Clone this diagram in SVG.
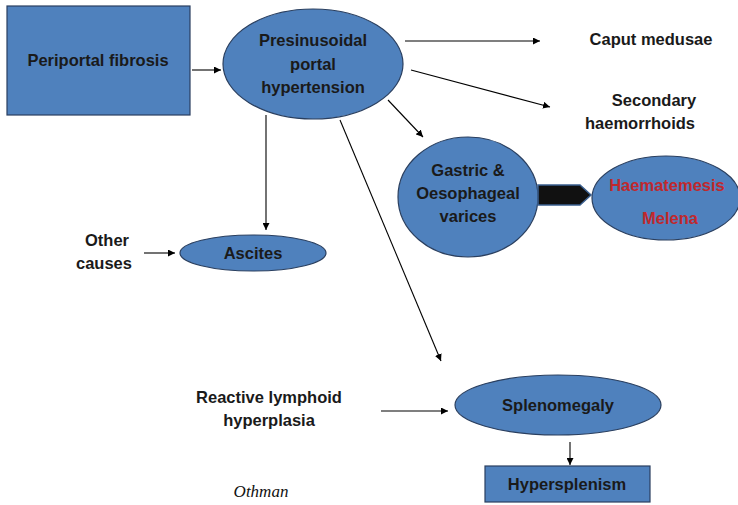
<svg xmlns="http://www.w3.org/2000/svg" width="738" height="505" viewBox="0 0 738 505">
<defs>
<marker id="ah" viewBox="0 0 10 10" refX="10" refY="5" markerWidth="7" markerHeight="7" markerUnits="userSpaceOnUse" orient="auto">
<path d="M0,0 L10,5 L0,10 z" fill="#000"/>
</marker>
<style>
.n{fill:#4F81BD;stroke:#2A3F5F;stroke-width:1.2}
.t{font-family:"Liberation Sans",Arial,sans-serif;font-weight:bold;font-size:16.5px;fill:#1a1a1a;text-anchor:middle;dominant-baseline:central}
.r{fill:#C0282D}
.c line{stroke:#000;stroke-width:1.1;marker-end:url(#ah)}
</style>
</defs>
<rect width="738" height="505" fill="#fff"/>
<g id="periportal"><rect class="n" x="7" y="6" width="183" height="109"/><text class="t" x="98" y="60">Periportal fibrosis</text></g>
<g id="presinusoidal"><ellipse class="n" cx="313" cy="64" rx="90" ry="55"/><text class="t" x="313" y="40">Presinusoidal</text><text class="t" x="313" y="64">portal</text><text class="t" x="313" y="87">hypertension</text></g>
<g id="caput"><text class="t" x="651" y="39">Caput medusae</text></g>
<g id="haemorrhoids"><text class="t" x="654" y="100">Secondary</text><text class="t" x="640" y="123">haemorrhoids</text></g>
<g id="varices"><ellipse class="n" cx="468" cy="197" rx="70" ry="60"/><text class="t" x="468" y="170">Gastric &amp;</text><text class="t" x="468" y="193">Oesophageal</text><text class="t" x="468" y="216">varices</text></g>
<g id="bleeding"><ellipse class="n" cx="666" cy="198" rx="74" ry="42"/><text class="t r" x="667" y="185">Haematemesis</text><text class="t r" x="670" y="218">Melena</text></g>
<g id="blockarrow"><path d="M538,185 L580,185 L591,195 L580,205 L538,205 z" fill="#111" stroke="#3A5F8F" stroke-width="1.5"/></g>
<g id="ascites"><ellipse class="n" cx="253" cy="253" rx="73" ry="18"/><text class="t" x="253" y="253">Ascites</text></g>
<g id="othercauses"><text class="t" x="107" y="240">Other</text><text class="t" x="104" y="263">causes</text></g>
<g id="splenomegaly"><ellipse class="n" cx="558" cy="405" rx="103" ry="30"/><text class="t" x="558" y="405">Splenomegaly</text></g>
<g id="reactive"><text class="t" x="269" y="397">Reactive lymphoid</text><text class="t" x="269" y="420">hyperplasia</text></g>
<g id="hypersplenism"><rect class="n" x="485" y="466" width="165" height="36"/><text class="t" x="567" y="484">Hypersplenism</text></g>
<g id="othman"><text x="261" y="497" font-family="'Liberation Serif','Times New Roman',serif" font-style="italic" font-size="17px" fill="#111" text-anchor="middle">Othman</text></g>
<g class="c" id="connectors">
<line x1="192" y1="70" x2="221" y2="70"/>
<line x1="405" y1="41" x2="540" y2="41"/>
<line x1="411" y1="70" x2="550" y2="107"/>
<line x1="388" y1="100" x2="423" y2="137"/>
<line x1="266" y1="115" x2="266" y2="230"/>
<line x1="144" y1="253" x2="175" y2="253"/>
<line x1="340" y1="120" x2="441" y2="361"/>
<line x1="381" y1="411" x2="448" y2="411"/>
<line x1="570" y1="442" x2="570" y2="465"/>
</g>
</svg>
